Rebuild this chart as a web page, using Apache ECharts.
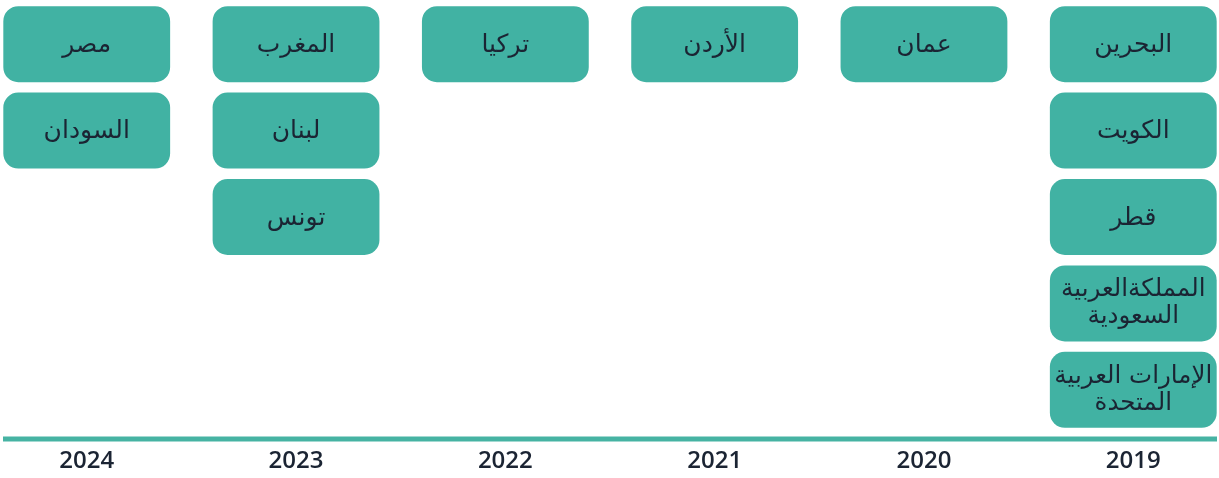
<!DOCTYPE html>
<html>
<head>
<meta charset="utf-8">
<script src="https://cdn.jsdelivr.net/npm/echarts@6/dist/echarts.min.js"></script>
<style>
html,body{margin:0;padding:0;background:#fff;}
#chart{width:1219px;height:478px;}
</style>
</head>
<body>
<div id="chart"></div>
<script>
// Years (right-to-left timeline: 2019 on the right)
var years = ['2019', '2020', '2021', '2022', '2023', '2024'];

// Countries joining in each year (top to bottom)
var countries2019 = ['البحرين', 'الكويت', 'قطر', 'المملكةالعربية\nالسعودية', 'الإمارات العربية\nالمتحدة'];
var countries2020 = ['عمان'];
var countries2021 = ['الأردن'];
var countries2022 = ['تركيا'];
var countries2023 = ['المغرب', 'لبنان', 'تونس'];
var countries2024 = ['مصر', 'السودان'];

var byYear = [countries2019, countries2020, countries2021, countries2022, countries2023, countries2024];

var items = [];
byYear.forEach(function (list, yi) {
  list.forEach(function (name, row) {
    items.push({ value: [yi, row], name: name });
  });
});

var yearIdx = years.map(function (y, i) { return i; });

var TEAL = '#41b2a3';
var INK = '#1b2433';

var chart = echarts.init(document.getElementById('chart'));
chart.setOption({
  animation: false,
  grid: { left: 3, right: 2, top: 1, height: 432 },
  xAxis: {
    type: 'value',
    inverse: true,
    min: -0.4,
    max: 5.4,
    axisLine: { show: false },
    axisTick: { show: false },
    splitLine: { show: false },
    axisLabel: {
      customValues: yearIdx,
      formatter: function (v) { return years[Math.round(v)]; },
      color: INK,
      fontSize: 24,
      fontWeight: 600,
      fontFamily: 'Open Sans',
      margin: 16
    }
  },
  yAxis: {
    type: 'value',
    inverse: true,
    min: -0.5,
    max: 4.5,
    show: false
  },
  graphic: [{
    type: 'rect',
    shape: { x: 3, y: 436.5, width: 1214, height: 5 },
    style: { fill: '#46b3a3' },
    silent: true
  }],
  series: [{
    type: 'custom',
    data: items,
    renderItem: function (params, api) {
      var c = api.coord([api.value(0), api.value(1)]);
      var s = api.size([1, 1]);
      var w = s[0] * 0.797;
      var h = s[1] * 0.88;
      var name = items[params.dataIndex].name;
      var twoLines = name.indexOf('\n') >= 0;
      return {
        type: 'group',
        children: [{
          type: 'rect',
          shape: { x: c[0] - w / 2, y: c[1] - h / 2, width: w, height: h, r: 15 },
          style: { fill: TEAL }
        }, {
          type: 'text',
          style: {
            text: name,
            x: c[0],
            y: c[1] + (twoLines ? 0 : 1),
            align: 'center',
            verticalAlign: 'middle',
            fill: INK,
            fontSize: twoLines ? 24.5 : 25,
            lineHeight: twoLines ? 27 : 30,
            fontFamily: 'DejaVu Sans'
          }
        }]
      };
    }
  }]
});
</script>
</body>
</html>
